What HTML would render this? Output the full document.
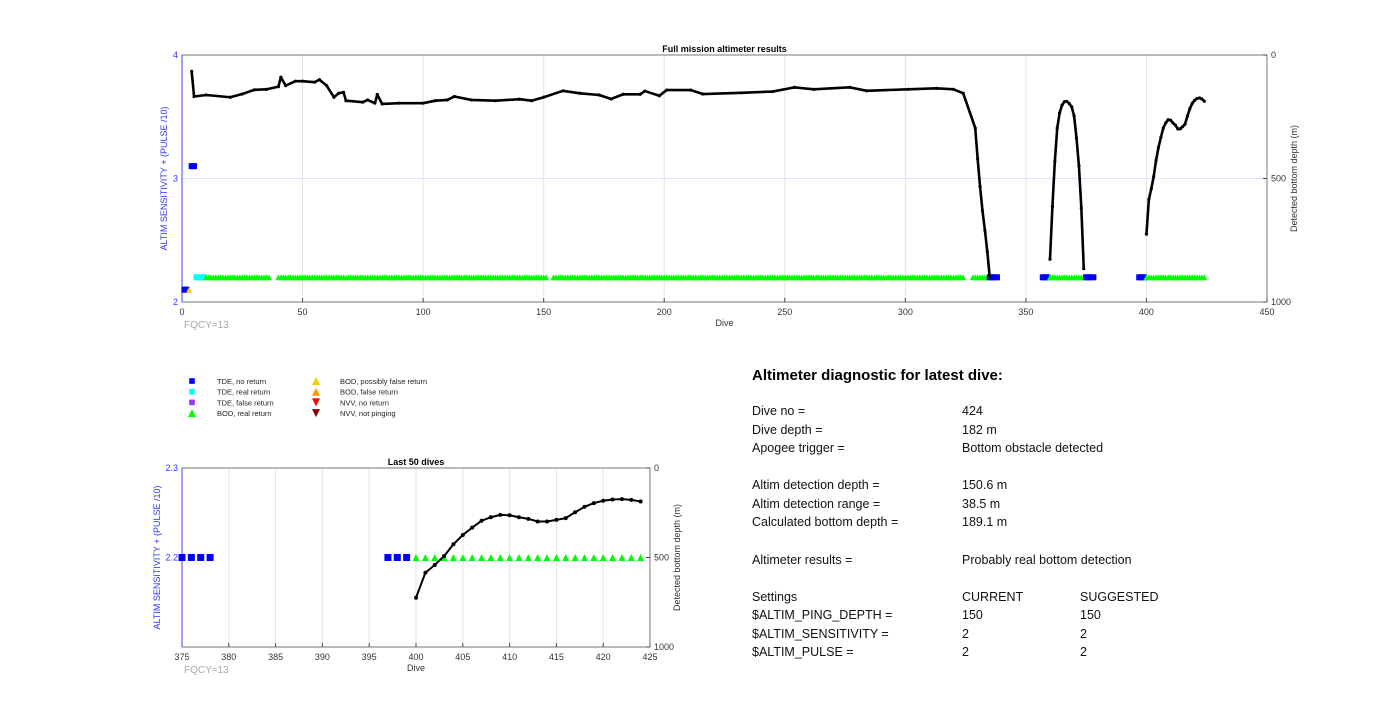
<!DOCTYPE html>
<html><head><meta charset="utf-8"><style>
body{margin:0;background:#fff;width:1400px;height:726px;overflow:hidden;font-family:"Liberation Sans",sans-serif}
svg{position:absolute;left:0;top:0}
text{font-family:"Liberation Sans",sans-serif}
</style></head><body>
<svg id="s" width="1400" height="726"></svg>
<script>
// ---- data: full mission ----
const fullDives=[4,5,10,20,25,30,35,40,41,43,47,50,55,57,60,63,65,67,68,75,77,80,81,83,90,100,105,110,113,120,130,140,145,150,158,165,173,178,183,190,192,198,201,211,216,232,245,254,262,277,284,301,313,320,324,329,330,331,332,333,334,335,null,360,361,362,363,364,365,366,367,368,369,370,371,372,373,374,null,400,401,402,403,404,405,406,407,408,409,410,411,412,413,414,415,416,417,418,419,420,421,422,423,424];
const fullDepth=[66,168,162,171,158,141,139,128,90,124,106,106,110,100,124,171,155,151,185,191,182,195,160,198,195,195,185,182,168,182,185,179,185,171,145,155,162,178,159,159,146,165,142,142,158,153,148,131,139,131,145,139,135,139,155,296,421,533,631,709,796,899,null,827,614,432,296,234,203,189,188,197,210,247,337,449,620,865,null,725,585,542,492,426,374,333,295,275,262,264,275,284,299,299,290,280,247,217,196,183,176,174,178,187];
// status markers
const statusStart=[1,3,4,6,10,40,154,328,335,357,360,375,397,400];
const statusEnd=[2,3,5,9,36,151,324,334,338,359,374,378,399,424];
const statusLevel=[2.1,2.1,3.1,2.2,2.2,2.2,2.2,2.2,2.2,2.2,2.2,2.2,2.2,2.2];
const statusType=['tde-no','bod-pf','tde-no','tde-real','bod-real','bod-real','bod-real','bod-real','tde-no','tde-no','bod-real','tde-no','tde-no','bod-real'];
// last 50 dives
const lastDives=[400,401,402,403,404,405,406,407,408,409,410,411,412,413,414,415,416,417,418,419,420,421,422,423,424];
const lastDepth=[725,585,542,492,426,374,333,295,275,262,264,275,284,299,299,290,280,247,217,196,183,176,174,178,187];
const topXTicks=[0,50,100,150,200,250,300,350,400,450];
const botXTicks=[375,380,385,390,395,400,405,410,415,420,425];

const NS='http://www.w3.org/2000/svg',S=document.getElementById('s');
function el(t,a,p,txt){const e=document.createElementNS(NS,t);for(const k in a)e.setAttribute(k,a[k]);if(txt!=null)e.textContent=txt;(p||S).appendChild(e);return e;}
const colors={'tde-no':'#0000ff','tde-real':'#00ffff','tde-false':'#9933ff','bod-real':'#00ff00','bod-pf':'#ffcc00','bod-false':'#ff9900','nvv-no':'#ff0000','nvv-np':'#800000'};
function marker(g,type,x,y,s){
  let r;
  if(type.startsWith('tde'))r=el('rect',{x:x-s,y:y-s,width:2*s,height:2*s,fill:colors[type]},g);
  else if(type.startsWith('nvv'))r=el('polygon',{points:`${x-s},${y-s} ${x+s},${y-s} ${x},${y+s}`,fill:colors[type]},g);
  else r=el('polygon',{points:`${x-s},${y+s} ${x+s},${y+s} ${x},${y-s}`,fill:colors[type]},g);
  
  
}
function chart(o){
  const g=el('g',{});
  const X=d=>o.x0+(d-o.d0)/(o.d1-o.d0)*(o.x1-o.x0);
  const Y=v=>o.y1-(v-o.v0)/(o.v1-o.v0)*(o.y1-o.y0);
  const D=d=>o.y0+d/1000*(o.y1-o.y0);
  o.xt.forEach(t=>{const x=X(t);if(t>o.d0&&t<o.d1){const l=el('line',{x1:x,x2:x,y1:o.y0,y2:o.y1,stroke:'#e3e3e3'},g);}
    el('line',{x1:x,x2:x,y1:o.y1,y2:o.y1-4,stroke:'#444'},g);
    const tx=el('text',{x:x,y:o.y1+13,'font-size':9,'text-anchor':'middle',fill:'#333'},g,t);});
  if(o.hgrid!=null){const l=el('line',{x1:o.x0,x2:o.x1,y1:Y(o.hgrid),y2:Y(o.hgrid),stroke:'#e0e0ff'},g);}
  el('rect',{x:o.x0,y:o.y0,width:o.x1-o.x0,height:o.y1-o.y0,fill:'none',stroke:'#555','stroke-width':0.8},g);
  el('line',{x1:o.x0,x2:o.x0,y1:o.y0,y2:o.y1,stroke:'#4040ff'},g);
  o.yt.forEach(t=>{const tx=el('text',{x:o.x0-4,y:Y(t)+3,'font-size':9,'text-anchor':'end',fill:'#3333ff'},g,t);});
  [0,500,1000].forEach(t=>{el('line',{x1:o.x1,x2:o.x1-4,y1:D(t),y2:D(t),stroke:'#444'},g);const tx=el('text',{x:o.x1+4,y:D(t)+3,'font-size':9,fill:'#333'},g,t);});
  const tt=el('text',{x:(o.x0+o.x1)/2,y:o.y0-3,'font-size':9,'font-weight':'bold','text-anchor':'middle'},g,o.title);
  const xl=el('text',{x:(o.x0+o.x1)/2,y:o.y1+24,'font-size':9,'text-anchor':'middle',fill:'#333'},g,'Dive');
  const cy=(o.y0+o.y1)/2, lx=o.x0-o.yoff;
  const yl=el('text',{x:lx,y:cy,'font-size':9,'text-anchor':'middle',fill:'#3333ff',transform:`rotate(-90 ${lx} ${cy})`},g,'ALTIM SENSITIVITY + (PULSE /10)');
  const yr=el('text',{x:o.x1+30,y:cy,'font-size':9,'text-anchor':'middle',fill:'#333',transform:`rotate(-90 ${o.x1+30} ${cy})`},g,'Detected bottom depth (m)');
  const fq=el('text',{x:o.x0+2,y:o.y1+26,'font-size':10,fill:'#aaa'},g,'FQCY=13');
  for(let i=0;i<statusStart.length;i++)for(let d=statusStart[i];d<=statusEnd[i];d++){if(d<o.d0||d>o.d1)continue;marker(g,statusType[i],X(d),Y(statusLevel[i]),o.ms);}
  let segs=[],cur=[];
  o.dv.forEach((d,i)=>{if(d==null){if(cur.length)segs.push(cur);cur=[];}else if(d>=o.d0&&d<=o.d1)cur.push([X(d),D(o.dp[i])]);});
  if(cur.length)segs.push(cur);
  segs.forEach(s=>{if(s.length>1){const p=el('polyline',{points:s.map(q=>q.join(',')).join(' '),fill:'none',stroke:'#000','stroke-width':o.lw,'stroke-linejoin':'round'},g);}
    s.forEach(q=>{const m=el('circle',{cx:q[0],cy:q[1],r:o.pr,fill:'#000'},g);});});
}
chart({name:'full-mission-chart',title:'Full mission altimeter results',x0:182,x1:1267,y0:55,y1:302,d0:0,d1:450,v0:2,v1:4,xt:topXTicks,yt:[2,3,4],hgrid:3,dv:fullDives,dp:fullDepth,ms:3,pr:1.6,lw:2.6,yoff:15});
chart({name:'last-50-dives-chart',title:'Last 50 dives',x0:182,x1:650,y0:468,y1:647,d0:375,d1:425,v0:2.1,v1:2.3,xt:botXTicks,yt:[2.2,2.3],hgrid:null,dv:lastDives,dp:lastDepth,ms:3.5,pr:2,lw:2,yoff:22});
// legend
const lg=el('g',{});
const legL=[['tde-no','TDE, no return'],['tde-real','TDE, real return'],['tde-false','TDE, false return'],['bod-real','BOD, real return']];
const legR=[['bod-pf','BOD, possibly false return'],['bod-false','BOD, false return'],['nvv-no','NVV, no return'],['nvv-np','NVV, not pinging']];
[[legL,192,217],[legR,316,340]].forEach(([arr,mx,tx])=>arr.forEach((e,i)=>{const y=381+i*10.7;marker(lg,e[0],mx,y,e[0].startsWith('tde')?2.8:4);const t=el('text',{x:tx,y:y+3,'font-size':7.5,fill:'#222'},lg,e[1]);}));
// diagnostic panel
const pg=el('g',{});
const tl=el('text',{x:752,y:380,'font-size':15,'font-weight':'bold'},pg,'Altimeter diagnostic for latest dive:');
const rows=[[411,'Dive no =','424',''],[430,'Dive depth =','182 m',''],[448,'Apogee trigger =','Bottom obstacle detected',''],[485,'Altim detection depth =','150.6 m',''],[504,'Altim detection range =','38.5 m',''],[522,'Calculated bottom depth =','189.1 m',''],[560,'Altimeter results =','Probably real bottom detection',''],[597,'Settings','CURRENT','SUGGESTED'],[615,'$ALTIM_PING_DEPTH =','150','150'],[634,'$ALTIM_SENSITIVITY =','2','2'],[652,'$ALTIM_PULSE =','2','2']];
rows.forEach(r=>{[[752,r[1]],[962,r[2]],[1080,r[3]]].forEach(c=>{if(!c[1])return;const t=el('text',{x:c[0],y:r[0]+4,'font-size':12.5,fill:'#111'},pg,c[1]);});});
</script>
</body></html>
